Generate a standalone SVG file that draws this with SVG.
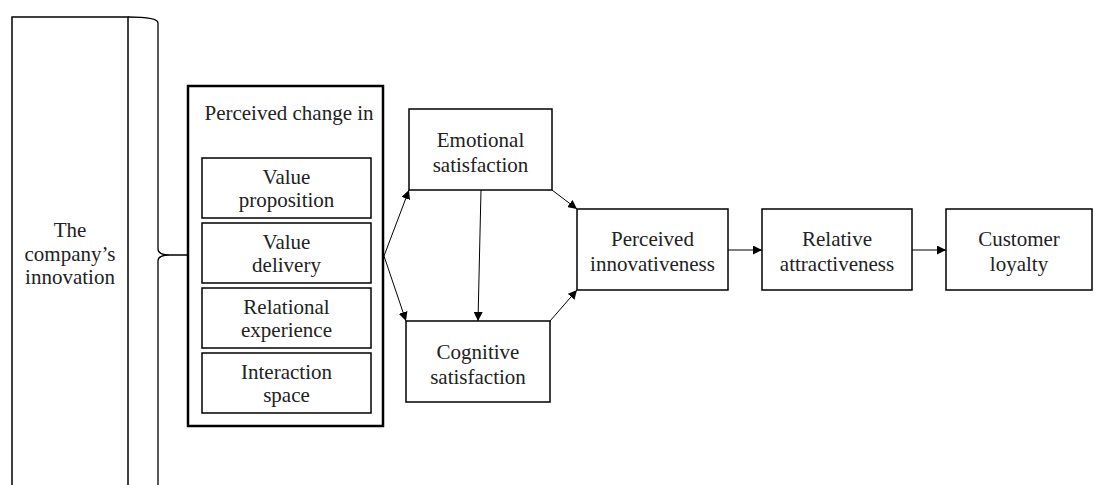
<svg xmlns="http://www.w3.org/2000/svg" width="1112" height="485" viewBox="0 0 1112 485">
  <style>
    .box { fill: #fff; stroke: #000; stroke-width: 1.5; }
    .outer { fill: #fff; stroke: #000; stroke-width: 2.5; }
    .lbl { font-size: 21px; fill: #222; text-anchor: middle; }
    .edge { stroke: #000; stroke-width: 1; fill: none; marker-end: url(#arr); }
    .brace { stroke: #000; stroke-width: 1.3; fill: none; }
  </style>
  <defs>
    <marker id="arr" viewBox="0 0 10 10" refX="10" refY="5" markerWidth="9" markerHeight="9" markerUnits="userSpaceOnUse" orient="auto">
      <path d="M0,0 L10,5 L0,10 Z" fill="#000"/>
    </marker>
  </defs>

  <rect width="1112" height="485" fill="#fff"/>

  <g font-family="Liberation Serif, Times New Roman, Times, DejaVu Serif, serif">
    <g id="company-innovation">
      <rect class="box" x="12" y="17" width="116" height="480"/>
      <text class="lbl"><tspan x="70" y="237">The</tspan><tspan x="70" y="261">company’s</tspan><tspan x="70" y="284">innovation</tspan></text>
    </g>

    <g id="brace">
      <path class="brace" d="M128,17 Q158,17 158,23 L158,249 Q158,255 170,255 L187,255 M170,255 Q158,255 158,261 L158,490"/>
    </g>

    <g id="perceived-change">
      <rect class="outer" x="188" y="86" width="195" height="340"/>
      <text class="lbl" x="289" y="120">Perceived change in</text>
    </g>
    <g id="value-proposition">
      <rect class="box" x="202" y="158" width="169" height="60"/>
      <text class="lbl"><tspan x="286.5" y="184">Value</tspan><tspan x="286.5" y="207">proposition</tspan></text>
    </g>
    <g id="value-delivery">
      <rect class="box" x="202" y="223" width="169" height="60"/>
      <text class="lbl"><tspan x="286.5" y="249">Value</tspan><tspan x="286.5" y="272">delivery</tspan></text>
    </g>
    <g id="relational-experience">
      <rect class="box" x="202" y="288" width="169" height="60"/>
      <text class="lbl"><tspan x="286.5" y="314">Relational</tspan><tspan x="286.5" y="337">experience</tspan></text>
    </g>
    <g id="interaction-space">
      <rect class="box" x="202" y="353" width="169" height="60"/>
      <text class="lbl"><tspan x="286.5" y="379">Interaction</tspan><tspan x="286.5" y="402">space</tspan></text>
    </g>

    <g id="emotional-satisfaction">
      <rect class="box" x="409" y="109" width="143" height="81"/>
      <text class="lbl"><tspan x="480.5" y="147">Emotional</tspan><tspan x="480.5" y="172">satisfaction</tspan></text>
    </g>
    <g id="cognitive-satisfaction">
      <rect class="box" x="406" y="321" width="144" height="81"/>
      <text class="lbl"><tspan x="478" y="359">Cognitive</tspan><tspan x="478" y="384">satisfaction</tspan></text>
    </g>
    <g id="perceived-innovativeness">
      <rect class="box" x="577" y="209" width="151" height="81"/>
      <text class="lbl"><tspan x="652.5" y="246">Perceived</tspan><tspan x="652.5" y="271">innovativeness</tspan></text>
    </g>
    <g id="relative-attractiveness">
      <rect class="box" x="762" y="209" width="150" height="81"/>
      <text class="lbl"><tspan x="837" y="246">Relative</tspan><tspan x="837" y="271">attractiveness</tspan></text>
    </g>
    <g id="customer-loyalty">
      <rect class="box" x="946" y="209" width="146" height="81"/>
      <text class="lbl"><tspan x="1019" y="246">Customer</tspan><tspan x="1019" y="271">loyalty</tspan></text>
    </g>
  </g>

  <g id="connectors">
    <line class="edge" x1="384" y1="256" x2="409" y2="190"/>
    <line class="edge" x1="384" y1="256" x2="406" y2="321"/>
    <line class="edge" x1="481" y1="190" x2="478" y2="321"/>
    <line class="edge" x1="552" y1="190" x2="577" y2="209"/>
    <line class="edge" x1="550" y1="321" x2="577" y2="290"/>
    <line class="edge" x1="728" y1="250" x2="762" y2="250"/>
    <line class="edge" x1="912" y1="250" x2="946" y2="250"/>
  </g>
</svg>
